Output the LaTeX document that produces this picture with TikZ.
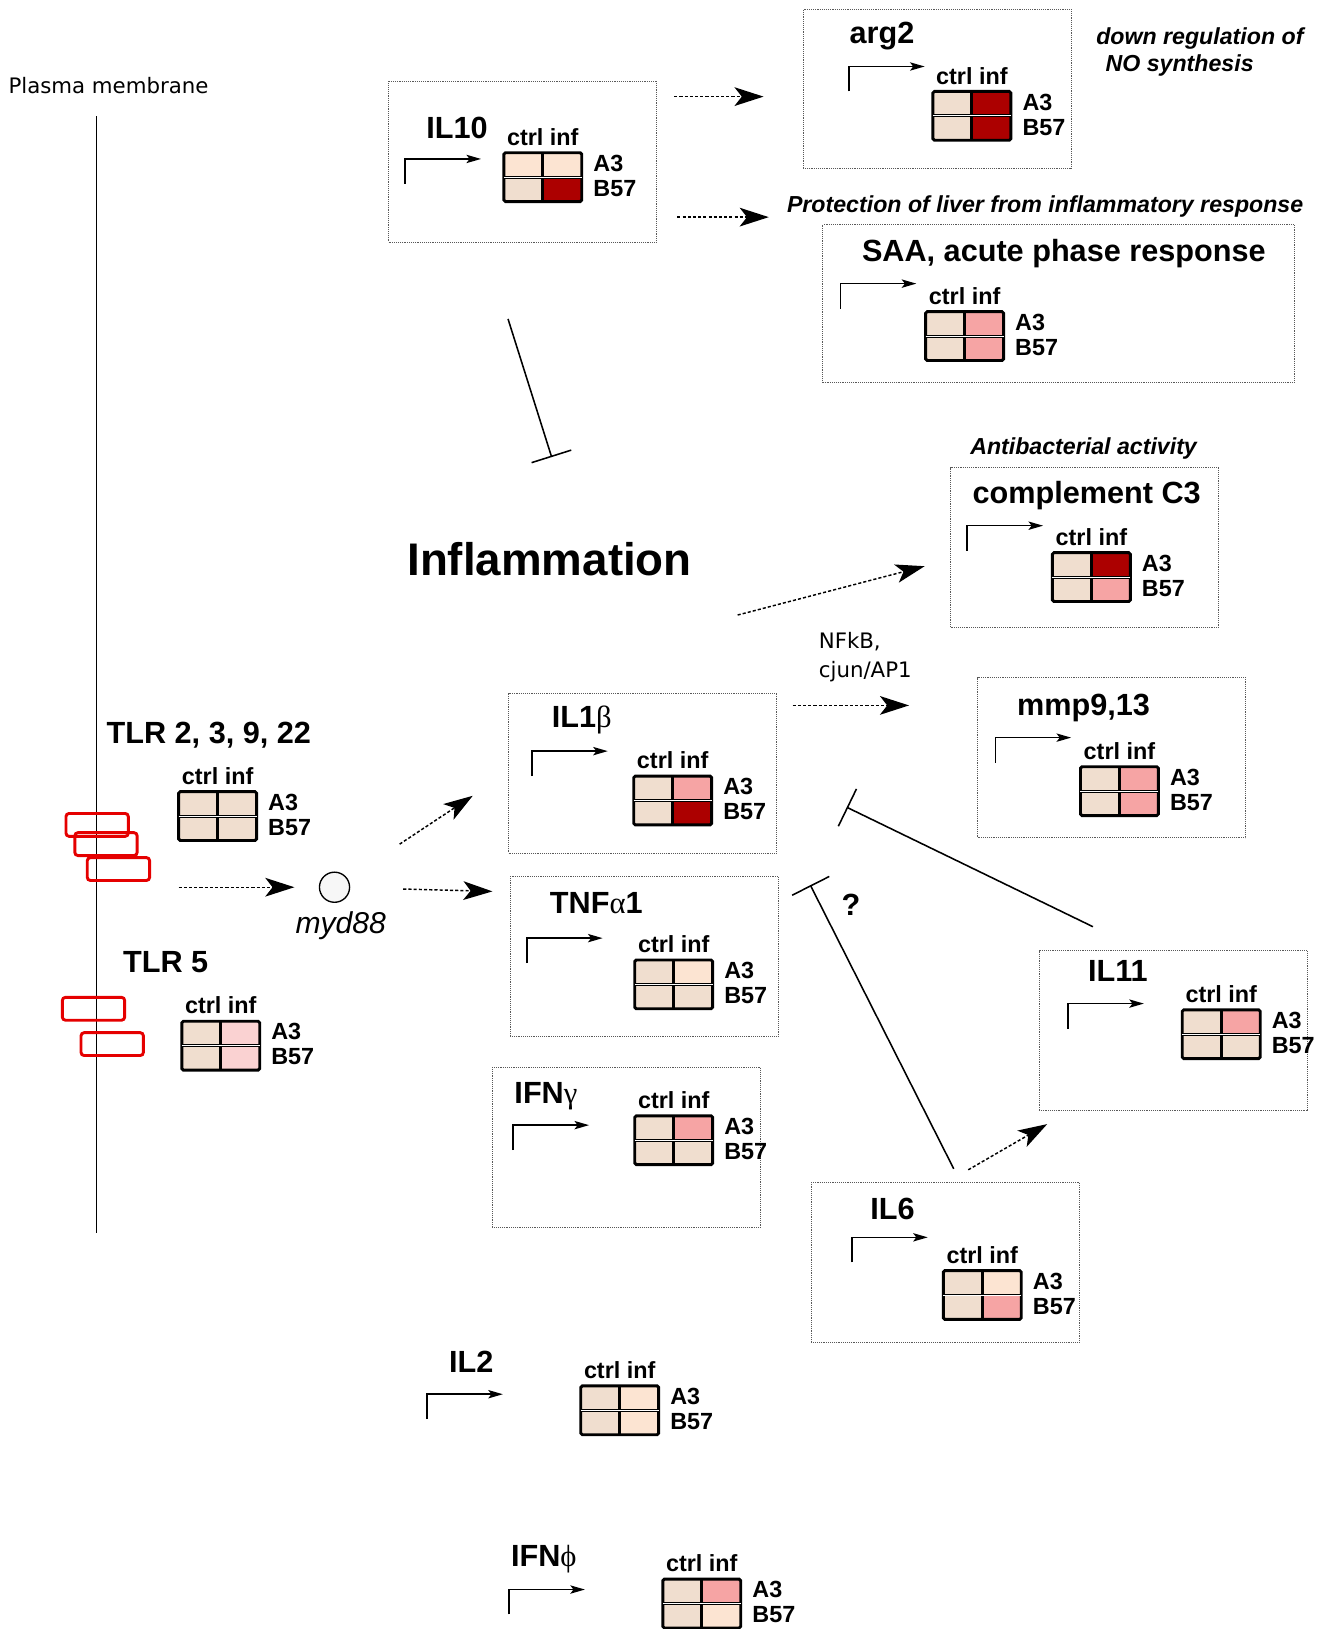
\documentclass[tikz,border=0pt]{standalone}
\usepackage{fontspec}
\setmainfont{Liberation Sans}
\newfontfamily\dejavu{DejaVu Sans}
\newfontfamily\grk{Liberation Serif}
\usetikzlibrary{arrows.meta}

\definecolor{cellbase}{RGB}{240,222,207}
\definecolor{cellpeach}{RGB}{252,228,210}
\definecolor{cellpale}{RGB}{250,210,210}
\definecolor{cellpink}{RGB}{246,164,164}
\definecolor{celldark}{RGB}{172,0,0}

\begin{document}
\begin{tikzpicture}[
    x=1pt, y=-1pt,
    frame/.style={
        rectangle,
        draw=black!65,
        densely dotted,
        line width=0.8pt,
        minimum width=258pt,
        minimum height=154pt,
        inner sep=0pt,},
    gene/.style={font=\fontsize{29.5}{32}\selectfont\bfseries, anchor=base, inner sep=0pt},
    hdr/.style={font=\fontsize{22.5}{24}\selectfont\bfseries, inner sep=0pt},
    role/.style={font=\fontsize{22.3}{26}\selectfont\bfseries\itshape, anchor=base, inner sep=0pt},
    plain/.style={font=\fontsize{20.5}{24}\selectfont\dejavu, anchor=base west, inner sep=0pt},
    act/.style={
        -{Stealth[length=28pt,width=18pt,inset=7pt]},
        dash pattern=on 3pt off 2pt,
        line width=1.4pt,},
    inh/.style={-{Bar[width=40pt]}, line width=1.5pt},
    prom/.style={-{Stealth[length=14pt,width=8pt,inset=3pt]}, line width=1.5pt},
    cell/.style={draw=black, line width=2.8pt, rounded corners=1.5pt},
    receptor/.style={draw=red!90!black, line width=2.8pt, rounded corners=3pt},
    pics/tss/.style={code={
        \draw[prom] (0,0) -- (0,-24) -- (73,-24);
    }},
    pics/heat/.style n args={4}{code={
        \fill[#1] (0,0) rectangle (37.5,23.5);
        \fill[#2] (37.5,0) rectangle (75,23.5);
        \fill[#3] (0,23.5) rectangle (37.5,47);
        \fill[#4] (37.5,23.5) rectangle (75,47);
        \draw[cell] (0,0) rectangle (75,47);
        \draw[cell] (37.5,0) -- (37.5,47);
        \draw[cell] (0,23.5) -- (75,23.5);
        \draw[white, line width=0.7pt] (0,23.5) -- (75,23.5);
        \node[hdr, anchor=base] (-cols) at (37.5,-7) {ctrl inf};
        \node[hdr, anchor=base west] (-a3) at (86,18) {A3};
        \node[hdr, anchor=base west] (-b57) at (86,42) {B57};
    }},
]
\useasboundingbox (0,0) rectangle (1273,1568);

% membrane and receptors
\node[plain] (pm) at (8,90) {Plasma membrane};
\coordinate (memtop) at (93,112);
\coordinate (membot) at (93,1187);
\draw[line width=1.6pt] (memtop) -- (membot);
\foreach \rx/\ry in {63.5/783, 72/801.5, 84/825.5, 60/960, 78/994}
    \draw[receptor] (\rx,\ry) rectangle ++(60,22);

\node[gene] (tlr) at (201,716) {TLR 2, 3, 9, 22};
\pic (tlrh) at (172,762) {heat={cellbase}{cellbase}{cellbase}{cellbase}};
\node[gene] (tlr5) at (159.5,936) {TLR 5};
\pic (tlr5h) at (175,983) {heat={cellbase}{cellpale}{cellbase}{cellpale}};

\node[circle, draw, line width=1.3pt, fill=black!3, minimum size=29pt, inner sep=0pt] (myd88) at (322,854) {};
\node[font=\fontsize{29}{32}\selectfont\itshape, anchor=base, inner sep=0pt] (mydlbl) at (328,899) {myd88};

\node[font=\fontsize{44}{48}\selectfont\bfseries, anchor=base, inner sep=0pt] (infl) at (529,554) {Inflammation};

% genes
\node[frame, minimum height=155pt] (il10box) at (503,155.5) {};
\node[gene] (il10) at (440,133) {IL10};
\pic at (390,177) {tss};
\pic (il10h) at (485,147) {heat={cellpeach}{cellpeach}{cellbase}{celldark}};

\node[frame, minimum height=153pt] (arg2box) at (902,85.5) {};
\node[gene] (arg2) at (849,42) {arg2};
\pic at (817,88) {tss};
\pic (arg2h) at (898,88) {heat={cellbase}{celldark}{cellbase}{celldark}};
\node[role, anchor=base west] (noreg1) at (1055,43) {down regulation of};
\node[role, anchor=base west] (noreg2) at (1064,69) {NO synthesis};

\node[frame, minimum width=454pt, minimum height=152pt] (saabox) at (1019,292) {};
\node[gene] (saa) at (1024,252) {SAA, acute phase response};
\pic at (809,297) {tss};
\pic (saah) at (891,300) {heat={cellbase}{cellpink}{cellbase}{cellpink}};
\node[role] (liver) at (1006,205) {Protection of liver from inflammatory response};

\node[frame] (c3box) at (1044,527) {};
\node[gene] (c3) at (1046,485) {complement C3};
\pic at (931,530) {tss};
\pic (c3h) at (1013,532) {heat={cellbase}{celldark}{cellbase}{cellpink}};
\node[role] (antib) at (1043,437) {Antibacterial activity};

\node[frame] (mmpbox) at (1070,729.5) {};
\node[gene] (mmp) at (1043,689) {mmp9,13};
\pic at (958,734) {tss};
\pic (mmph) at (1040,738) {heat={cellbase}{cellpink}{cellbase}{cellpink}};

\node[frame] (il1bbox) at (618.5,744) {};
\node[gene] (il1b) at (560,700) {IL1{\grk\mdseries β}};
\pic at (512,747) {tss};
\pic (il1bh) at (610,747) {heat={cellbase}{cellpink}{cellbase}{celldark}};

\node[frame] (tnfbox) at (620,920.5) {};
\node[gene] (tnf) at (574,879) {TNF{\grk\mdseries α}1};
\pic at (507,927) {tss};
\pic (tnfh) at (611,924) {heat={cellbase}{cellpeach}{cellbase}{cellbase}};

\node[frame] (ifngbox) at (603,1104.5) {};
\node[gene] (ifng) at (525.5,1062) {IFN{\grk\mdseries γ}};
\pic at (494,1107) {tss};
\pic (ifngh) at (611,1074) {heat={cellbase}{cellpink}{cellbase}{cellbase}};

\node[frame] (il6box) at (910,1215) {};
\node[gene] (il6) at (859,1174) {IL6};
\pic at (820,1215) {tss};
\pic (il6h) at (908,1223) {heat={cellbase}{cellpeach}{cellbase}{cellpink}};

\node[frame] (il11box) at (1129,992) {};
\node[gene] (il11) at (1076,945) {IL11};
\pic at (1028,990) {tss};
\pic (il11h) at (1138,972) {heat={cellbase}{cellpink}{cellbase}{cellbase}};

\node[gene] (il2) at (453.5,1321) {IL2};
\pic at (411,1366) {tss};
\pic (il2h) at (559,1334) {heat={cellbase}{cellpeach}{cellbase}{cellpeach}};

\node[gene] (ifnp) at (523.5,1508) {IFN{\grk\mdseries ϕ}};
\pic at (490,1554) {tss};
\pic (ifnph) at (638,1520) {heat={cellbase}{cellpink}{cellbase}{cellpeach}};

% activation
\coordinate (tlrout) at (172,854);
\coordinate (tnfin) at (474,858);
\coordinate (il1bin) at (455,766);
\coordinate (il10o1) at (649,93);
\coordinate (arg2in) at (735,93);
\coordinate (il10o2) at (652,209);
\coordinate (saain) at (740,209);
\coordinate (inflo) at (710,592);
\coordinate (c3in) at (890,545);
\coordinate (il1bo) at (763,679);
\coordinate (mmpin) at (875,679);
\coordinate (il6o) at (932,1126);
\coordinate (il11in) at (1008,1082);

\draw[act, shorten >=23.5pt] (tlrout) -- (myd88);
\draw[act, shorten <=51pt] (myd88) -- (tnfin);
\draw[act, shorten <=60pt] (myd88) -- (il1bin);
\draw[act] (il10o1) -- (arg2in);
\draw[act] (il10o2) -- (saain);
\draw[act] (inflo) -- (c3in);
\draw[act] (il1bo) -- (mmpin);
\draw[act] (il6o) -- (il11in);

\node[plain] (nfkb) at (788,624) {NFkB,};
\node[plain] (cjun) at (788,652) {cjun/AP1};

% inhibition
\coordinate (il10inh) at (489,307);
\coordinate (inflinh) at (531,440);
\coordinate (il11inh) at (1052,892);
\coordinate (il1binh) at (815,777);
\coordinate (il6inh) at (918,1125);
\coordinate (tnfinh) at (780,852);

\draw[inh] (il10inh) -- (inflinh);
\draw[inh] (il11inh) -- (il1binh);
\draw[inh] (il6inh) -- (tnfinh);
\node[gene, anchor=center] (unk) at (819,871) {?};

\end{tikzpicture}
\end{document}
